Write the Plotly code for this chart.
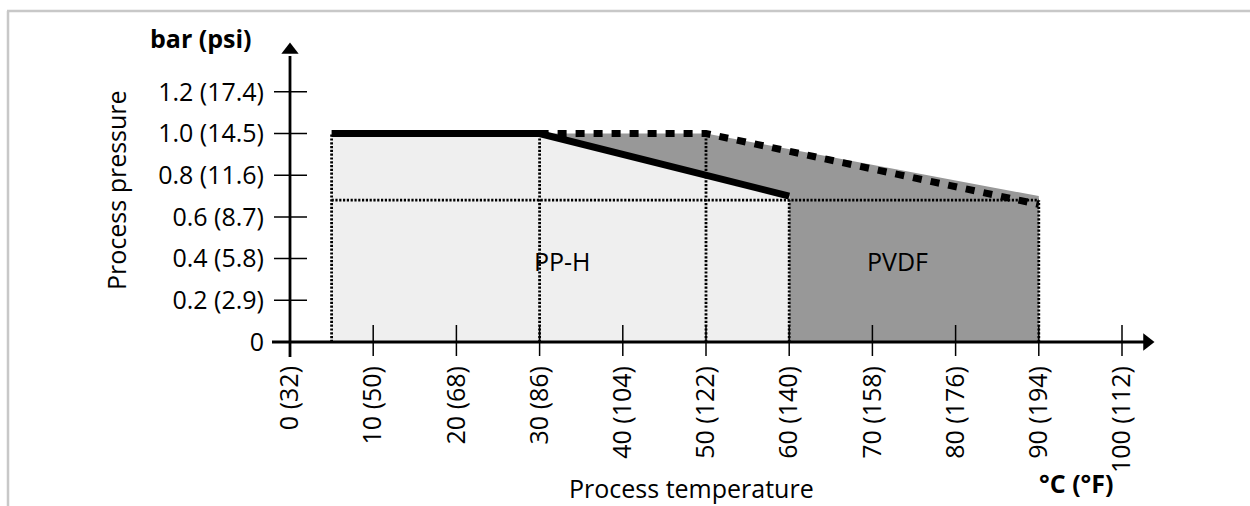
import plotly.graph_objects as go

# ---- data -------------------------------------------------------------
temp_ticks = [0, 10, 20, 30, 40, 50, 60, 70, 80, 90, 100]
temp_labels = ["0 (32)", "10 (50)", "20 (68)", "30 (86)", "40 (104)", "50 (122)",
               "60 (140)", "70 (158)", "80 (176)", "90 (194)", "100 (112)"]
pressure_ticks = [0, 0.2, 0.4, 0.6, 0.8, 1.0, 1.2]
pressure_labels = ["0", "0.2 (2.9)", "0.4 (5.8)", "0.6 (8.7)", "0.8 (11.6)",
                   "1.0 (14.5)", "1.2 (17.4)"]

# PP-H limit curve (solid)
pph_t = [5, 30, 60]
pph_p = [1.0, 1.0, 0.70]
# PVDF limit curve (dashed)
pvdf_t = [30, 50, 90]
pvdf_p = [1.0, 1.0, 0.66]
# upper edge of the PVDF shaded area
pvdf_fill_t = [30, 50, 90]
pvdf_fill_p = [1.0, 1.0, 0.70]

# dotted guide lines: (temperature, top pressure)
guide_verticals = [(5, 1.0), (30, 1.0), (50, 1.0), (60, 0.68), (90, 0.68)]
guide_level = 0.68
guide_span = (5, 90)

# ---- geometry ---------------------------------------------------------
W, H = 1250, 506
L, R, T, B = 272, 1160, 40, 358           # plot area in pixels
X0_PX, PX_PER_C = 290, 8.32               # pixel of 0 °C, pixels per °C
Y0_PX, PX_PER_BAR = 342, 208.5            # pixel of 0 bar, pixels per bar

x_range = [(L - X0_PX) / PX_PER_C, (R - X0_PX) / PX_PER_C]
y_range = [(Y0_PX - B) / PX_PER_BAR, (Y0_PX - T) / PX_PER_BAR]


def px_x(px):
    return (px - X0_PX) / PX_PER_C


def px_y(py):
    return (Y0_PX - py) / PX_PER_BAR


def paper_x(px):
    return (px - L) / (R - L)


def paper_y(py):
    return (B - py) / (B - T)


LIGHT = "#efefef"
DARK = "#989898"
FONT = "Open Sans"
FS = 25
DOT = dict(color="black", width=2.8, dash="2.2px,1.6px")

fig = go.Figure()

# shaded PVDF region
fig.add_trace(go.Scatter(
    x=pvdf_fill_t + [pvdf_fill_t[-1], pph_t[-1], pph_t[-1]],
    y=pvdf_fill_p + [0, 0, pph_p[-1]],
    fill="toself", fillcolor=DARK, mode="none", hoverinfo="skip"))
# shaded PP-H region
fig.add_trace(go.Scatter(
    x=[pph_t[0]] + pph_t + [pph_t[-1]],
    y=[0] + pph_p + [0],
    fill="toself", fillcolor=LIGHT, mode="none", hoverinfo="skip"))

# dotted guides
for t, p in guide_verticals:
    fig.add_trace(go.Scatter(x=[t, t], y=[0, p], mode="lines", line=DOT, hoverinfo="skip"))
fig.add_trace(go.Scatter(x=list(guide_span), y=[guide_level, guide_level], mode="lines",
                         line=DOT, hoverinfo="skip"))

# limit curves
fig.add_trace(go.Scatter(x=pph_t, y=pph_p, mode="lines",
                         line=dict(color="black", width=7), hoverinfo="skip"))
fig.add_trace(go.Scatter(x=pvdf_t, y=pvdf_p, mode="lines",
                         line=dict(color="black", width=7, dash="9px,9px"),
                         hoverinfo="skip"))

# axis arrows
fig.add_trace(go.Scatter(x=[px_x(1147)], y=[0], mode="markers", cliponaxis=False,
                         marker=dict(symbol="triangle-right", size=15, color="black"),
                         hoverinfo="skip"))
fig.add_trace(go.Scatter(x=[0], y=[px_y(50)], mode="markers", cliponaxis=False,
                         marker=dict(symbol="triangle-up", size=15, color="black"),
                         hoverinfo="skip"))

shapes = []
# axis lines
shapes.append(dict(type="line", xref="x", yref="y", x0=px_x(L), x1=px_x(1145), y0=0, y1=0,
                   line=dict(color="black", width=2.8)))
shapes.append(dict(type="line", xref="x", yref="y", x0=0, x1=0, y0=px_y(357), y1=px_y(56),
                   line=dict(color="black", width=2.8)))
# tick marks crossing the axes
for t in temp_ticks[1:]:
    shapes.append(dict(type="line", xref="x", yref="y", ysizemode="pixel", yanchor=0,
                       x0=t, x1=t, y0=-14, y1=17, line=dict(color="black", width=1.5)))
for p in pressure_ticks[1:]:
    shapes.append(dict(type="line", xref="x", yref="y", xsizemode="pixel", xanchor=0,
                       x0=-16, x1=17, y0=p, y1=p, line=dict(color="black", width=1.5)))
# frame
shapes.append(dict(type="line", xref="paper", yref="paper",
                   x0=paper_x(8), x1=paper_x(8), y0=paper_y(11), y1=paper_y(520),
                   line=dict(color="#c8c8c8", width=2.5)))
shapes.append(dict(type="line", xref="paper", yref="paper",
                   x0=paper_x(7), x1=paper_x(1260), y0=paper_y(11), y1=paper_y(11),
                   line=dict(color="#c8c8c8", width=2.5)))


def label(text, x, y, xref="paper", yref="paper", angle=0):
    return dict(text=text, x=x, y=y, xref=xref, yref=yref, textangle=angle,
                xanchor="center", yanchor="middle", showarrow=False,
                font=dict(family=FONT, size=FS, color="black"))


annotations = [
    label("<b>bar (psi)</b>", paper_x(201), paper_y(38)),
    label("Process pressure", paper_x(116), paper_y(190), angle=-90),
    label("Process temperature", paper_x(691), paper_y(488)),
    label("<b>°C (°F)</b>", paper_x(1076), paper_y(483)),
    label("PP-H", 32.8, 0.39, "x", "y"),
    label("PVDF", 73, 0.39, "x", "y"),
]

fig.update_layout(
    width=W, height=H,
    margin=dict(l=L, r=W - R, t=T, b=H - B),
    paper_bgcolor="white", plot_bgcolor="white",
    showlegend=False,
    shapes=shapes,
    annotations=annotations,
    xaxis=dict(range=x_range, tickvals=temp_ticks, ticktext=temp_labels, tickangle=-90,
               showgrid=False, zeroline=False, showline=False, ticks="",
               ticklabelstandoff=2,
               tickfont=dict(family=FONT, size=FS, color="black"), fixedrange=True),
    yaxis=dict(range=y_range, tickvals=pressure_ticks, ticktext=pressure_labels,
               showgrid=False, zeroline=False, showline=False, ticks="",
               ticklabelstandoff=7,
               tickfont=dict(family=FONT, size=FS, color="black"), fixedrange=True),
)

fig.write_html("out.html")
